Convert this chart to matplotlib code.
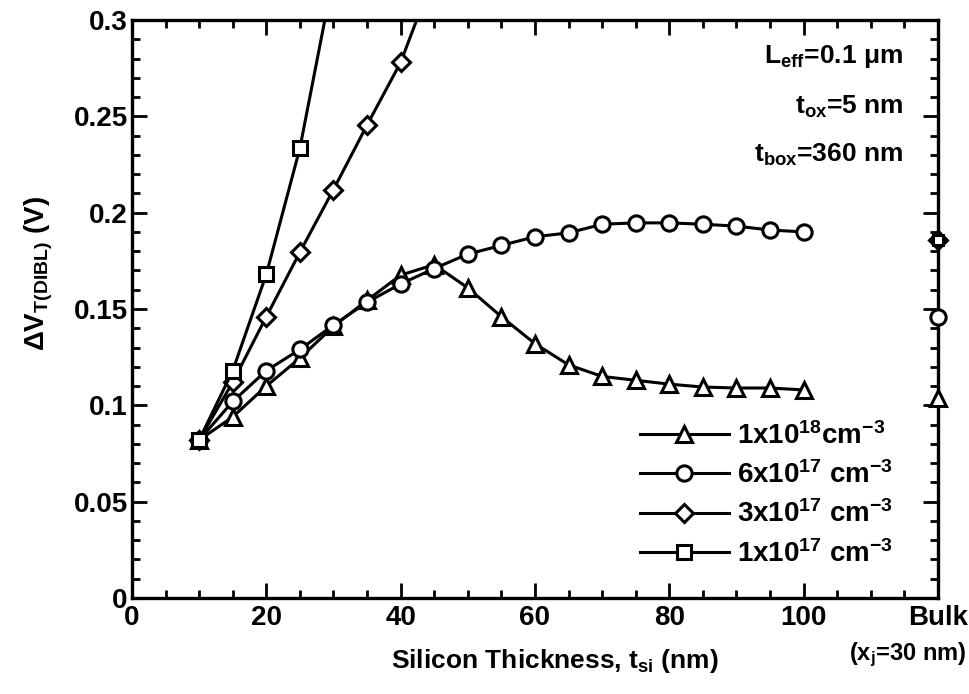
import matplotlib
matplotlib.use('Agg')
import matplotlib.pyplot as plt
from matplotlib.ticker import MultipleLocator

plt.rcParams['font.family'] = ['Liberation Sans', 'DejaVu Sans']
plt.rcParams['font.weight'] = 'bold'
plt.rcParams['axes.labelweight'] = 'bold'
plt.rcParams['mathtext.fontset'] = 'custom'
plt.rcParams['mathtext.rm'] = 'Liberation Sans:bold'
plt.rcParams['mathtext.it'] = 'Liberation Sans:bold'
plt.rcParams['mathtext.bf'] = 'Liberation Sans:bold'

# Silicon thickness (nm)
t_si = [10, 15, 20, 25, 30, 35, 40, 45, 50, 55, 60, 65, 70, 75, 80, 85, 90, 95, 100]

# Threshold voltage shift due to DIBL (V)
dv_1e18 = [0.082, 0.094, 0.110, 0.1245, 0.141, 0.1545, 0.1676, 0.173, 0.161, 0.146,
           0.132, 0.121, 0.115, 0.113, 0.111, 0.1095, 0.109, 0.109, 0.108]
dv_6e17 = [0.082, 0.102, 0.118, 0.129, 0.1417, 0.1535, 0.163, 0.171, 0.1785, 0.183,
           0.1875, 0.1895, 0.194, 0.1947, 0.1947, 0.194, 0.193, 0.191, 0.190]
t_3e17 = [10, 15, 20, 25, 30, 35, 40, 45]
dv_3e17 = [0.082, 0.112, 0.146, 0.1795, 0.212, 0.2455, 0.278, 0.324]
t_1e17 = [10, 15, 20, 25, 30]
dv_1e17 = [0.082, 0.118, 0.168, 0.2335, 0.323]

# Bulk device values (x_j = 30 nm)
bulk_x = 120
bulk_1e18 = 0.104
bulk_6e17 = 0.146
bulk_3e17 = 0.186
bulk_1e17 = 0.186

labels = ['1x10$^{18}$cm$^{-3}$', '6x10$^{17}$ cm$^{-3}$',
          '3x10$^{17}$ cm$^{-3}$', '1x10$^{17}$ cm$^{-3}$']

fig = plt.figure(figsize=(9.69, 6.94), dpi=100)
ax = fig.add_axes([0.1362, 0.1383, 0.8318, 0.8329])

style = dict(color='black', lw=2.2, markersize=11, markeredgewidth=2.2,
             markerfacecolor='white', markeredgecolor='black')

ax.plot(t_si, dv_1e18, marker='^', label=labels[0], **style)
ax.plot(t_si, dv_6e17, marker='o', label=labels[1], **style)
ax.plot(t_3e17, dv_3e17, marker='D', label=labels[2], **{**style, 'markersize': 9})
ax.plot(t_1e17, dv_1e17, marker='s', label=labels[3], **{**style, 'markersize': 10})

# Bulk points sit on the right axis
ax.plot([bulk_x], [bulk_1e18], marker='^', linestyle='none', clip_on=False, zorder=5, **style)
ax.plot([bulk_x], [bulk_6e17], marker='o', linestyle='none', clip_on=False, zorder=5, **style)
ax.plot([bulk_x], [bulk_1e17], marker='s', linestyle='none', clip_on=False, zorder=5,
        **{**style, 'markersize': 7})
ax.plot([bulk_x], [bulk_3e17], marker='D', linestyle='none', clip_on=False, zorder=6,
        **{**style, 'markersize': 9, 'markerfacecolor': 'none'})

ax.set_xlim(0, 120)
ax.set_ylim(0, 0.3)

ax.set_xticks([0, 20, 40, 60, 80, 100, 120])
ax.set_xticklabels(['0', '20', '40', '60', '80', '100', 'Bulk'])
ax.xaxis.set_minor_locator(MultipleLocator(5))
ax.set_yticks([0, 0.05, 0.1, 0.15, 0.2, 0.25, 0.3])
ax.set_yticklabels(['0', '0.05', '0.1', '0.15', '0.2', '0.25', '0.3'])
ax.yaxis.set_minor_locator(MultipleLocator(0.01))

ax.tick_params(which='both', direction='in', top=True, right=True, labelsize=20)
ax.tick_params(which='major', length=11, width=2)
ax.tick_params(which='minor', length=6, width=2)
ax.tick_params(axis='x', pad=5)
ax.tick_params(axis='y', pad=3)
for s in ax.spines.values():
    s.set_linewidth(2.4)

ax.set_xlabel('Silicon Thickness, t$_{si}$ (nm)', fontsize=19)
ax.xaxis.set_label_coords(0.525, -0.085)
ax.set_ylabel(r'$\Delta$V$_{T(DIBL)}$ (V)', fontsize=20)
ax.yaxis.set_label_coords(-0.095, 0.562)

fig.text(0.997, 0.057, '(x$_j$=30 nm)', ha='right', va='center', fontsize=17)

ax.text(0.957, 0.936, 'L$_{eff}$=0.1 μm', transform=ax.transAxes, ha='right',
        va='center', fontsize=19)
ax.text(0.957, 0.849, 't$_{ox}$=5 nm', transform=ax.transAxes, ha='right',
        va='center', fontsize=19)
ax.text(0.957, 0.766, 't$_{box}$=360 nm', transform=ax.transAxes, ha='right',
        va='center', fontsize=19)

ax.legend(loc='lower left', bbox_to_anchor=(0.63, 0.052), frameon=False,
          fontsize=20, handlelength=3.2, handletextpad=0.3, labelspacing=0.42,
          borderaxespad=0, borderpad=0)

plt.savefig('out.png', dpi=100)
plt.close()
